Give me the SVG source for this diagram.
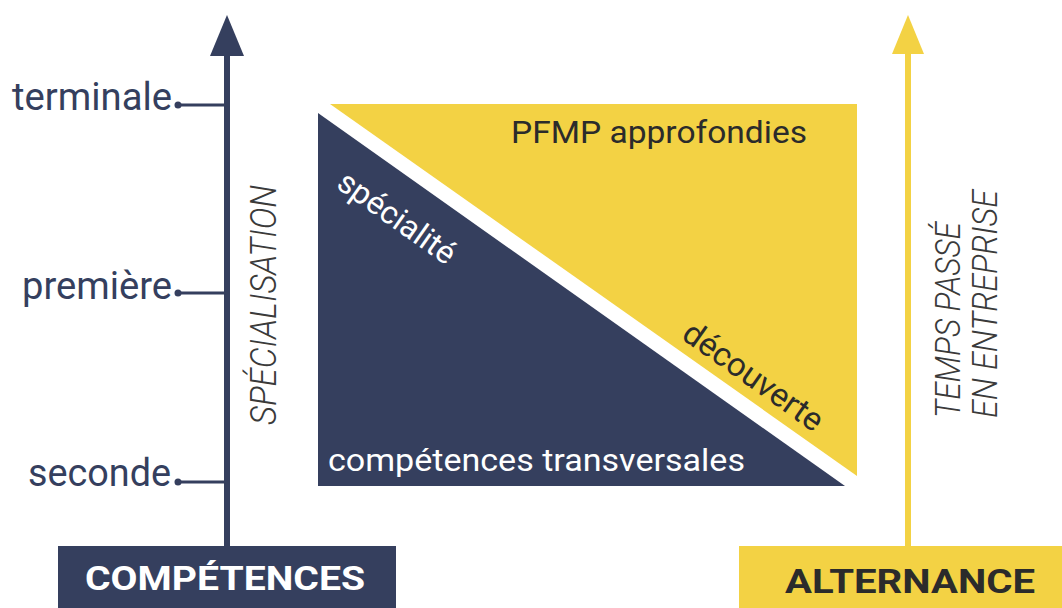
<svg xmlns="http://www.w3.org/2000/svg" width="1062" height="608" viewBox="0 0 1062 608">
<style>
.navy{fill:#353F5E}
.yel{fill:#F3D244}
.lbl{font-family:Roboto,"Liberation Sans",sans-serif;font-size:38px;fill:#353F5E}
.axis{font-family:Roboto,"Liberation Sans",sans-serif;font-style:italic;font-weight:300;fill:#3A3A3A}
.in{font-family:Roboto,"Liberation Sans",sans-serif}
.box{font-family:Roboto,"Liberation Sans",sans-serif;font-weight:bold;font-size:34px}
.tick{stroke:#353F5E;stroke-width:3}
</style>
<rect width="1062" height="608" fill="#FFFFFF"/>
<g id="connectors">
<line x1="227" y1="50" x2="227" y2="548" stroke="#353F5E" stroke-width="6"/>
<polygon points="227,15 244,56 210,56" class="navy"/>
<line x1="908" y1="48" x2="908" y2="548" stroke="#F3D244" stroke-width="6"/>
<polygon points="908,15 924,54 892,54" class="yel"/>
<line class="tick" x1="178" y1="105" x2="227" y2="105"/>
<circle cx="178" cy="105" r="3.5" class="navy"/>
<line class="tick" x1="178" y1="293" x2="227" y2="293"/>
<circle cx="178" cy="293" r="3.5" class="navy"/>
<line class="tick" x1="178" y1="482" x2="227" y2="482"/>
<circle cx="178" cy="482" r="3.5" class="navy"/>
</g>
<g id="levels">
<text class="lbl" x="172" y="110" text-anchor="end" textLength="160" lengthAdjust="spacingAndGlyphs">terminale</text>
<text class="lbl" x="172" y="299" text-anchor="end" textLength="150" lengthAdjust="spacingAndGlyphs">première</text>
<text class="lbl" x="171" y="486" text-anchor="end" textLength="143" lengthAdjust="spacingAndGlyphs">seconde</text>
</g>
<g id="axis-specialisation">
<text class="axis" font-size="36" transform="translate(276,425) rotate(-90)" textLength="240" lengthAdjust="spacingAndGlyphs">SPÉCIALISATION</text>
</g>
<g id="axis-temps">
<text class="axis" font-size="35" transform="translate(960,418) rotate(-90)" textLength="196" lengthAdjust="spacingAndGlyphs">TEMPS PASSÉ</text>
<text class="axis" font-size="35" transform="translate(997,418) rotate(-90)" textLength="228" lengthAdjust="spacingAndGlyphs">EN ENTREPRISE</text>
</g>
<g id="pfmp">
<polygon points="330,104 857,104 857,476" class="yel"/>
<text class="in" font-size="31" x="511" y="143" fill="#2B2B2B" textLength="296" lengthAdjust="spacingAndGlyphs">PFMP approfondies</text>
<text class="in" font-size="33" fill="#2B2B2B" transform="translate(680,338) rotate(35.3)">découverte</text>
</g>
<g id="competences-transversales">
<polygon points="318,113 318,486 845,486" class="navy"/>
<text class="in" font-size="32" fill="#FFFFFF" transform="translate(335,187) rotate(35.3)">spécialité</text>
<text class="in" font-size="31" x="328" y="471" fill="#FFFFFF" textLength="417" lengthAdjust="spacingAndGlyphs">compétences transversales</text>
</g>
<g id="competences">
<rect x="58" y="546" width="338" height="62" class="navy"/>
<text class="box" x="85" y="590" fill="#FFFFFF" textLength="280" lengthAdjust="spacingAndGlyphs">COMPÉTENCES</text>
</g>
<g id="alternance">
<rect x="739" y="546" width="323" height="62" class="yel"/>
<text class="box" x="785" y="593" fill="#2B2B2B" textLength="250" lengthAdjust="spacingAndGlyphs">ALTERNANCE</text>
</g>
</svg>
